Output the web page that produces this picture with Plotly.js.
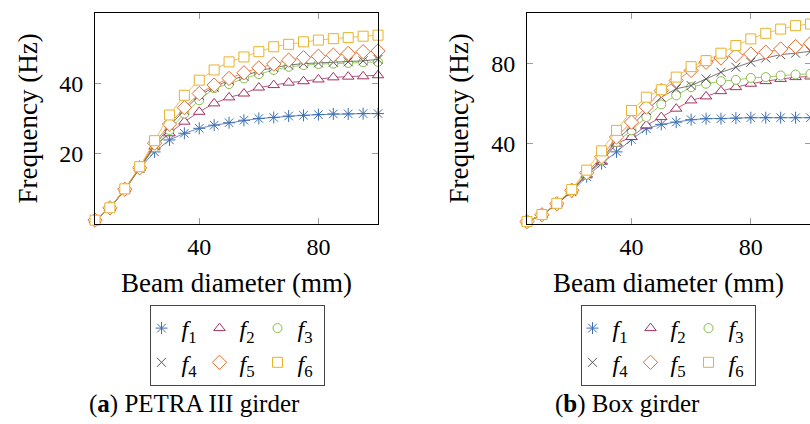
<!DOCTYPE html>
<html>
<head>
<meta charset="utf-8">
<script src="https://cdn.plot.ly/plotly-3.0.1.min.js"></script>
<style>
html, body { margin: 0; padding: 0; overflow: hidden; background: #ffffff; }
#chart { width: 815px; height: 424px; }
</style>
</head>
<body>
<div id="chart"></div>
<script>
// Beam diameter (mm)
var diameter = [5, 10, 15, 20, 25, 30, 35, 40, 45, 50, 55, 60, 65, 70, 75, 80, 85, 90, 95, 100];

// (a) PETRA III girder, frequencies (Hz)
var petraF1 = [1.1, 4.5, 9.7, 15.8, 20.5, 23.9, 25.8, 27.2, 28.1, 28.8, 29.5, 30.0, 30.3, 30.7, 30.9, 31.1, 31.3, 31.3, 31.4, 31.4];
var petraF2 = [1.1, 4.5, 9.8, 15.9, 22.0, 25.8, 29.1, 31.9, 34.3, 36.0, 37.1, 38.8, 39.5, 40.2, 40.6, 41.1, 41.7, 41.9, 42.0, 42.3];
var petraF3 = [1.1, 4.5, 9.8, 15.9, 21.8, 26.7, 31.4, 35.2, 38.6, 39.8, 41.4, 42.6, 43.8, 44.7, 45.2, 45.5, 45.6, 45.8, 46.0, 46.1];
var petraF4 = [1.1, 4.5, 9.8, 15.9, 22.2, 27.8, 32.4, 36.6, 38.9, 40.9, 42.0, 43.6, 44.5, 45.2, 45.6, 45.8, 46.0, 46.1, 46.4, 46.8];
var petraF5 = [1.1, 4.6, 9.9, 16.0, 23.0, 28.4, 33.1, 37.1, 39.5, 41.4, 43.0, 44.4, 45.5, 46.6, 47.3, 47.7, 48.0, 48.5, 49.0, 49.2];
var petraF6 = [1.1, 4.6, 10.0, 16.3, 23.7, 31.0, 36.6, 40.9, 43.8, 46.1, 47.5, 49.0, 50.4, 51.1, 51.8, 52.3, 52.7, 53.0, 53.4, 53.7];

// (b) Box girder, frequencies (Hz)
var boxF1 = [1.2, 4.5, 9.9, 16.0, 23.5, 30.0, 35.9, 42.0, 47.4, 49.6, 50.7, 51.9, 52.4, 52.4, 52.7, 52.9, 52.9, 52.9, 52.9, 52.9];
var boxF2 = [1.2, 4.5, 10.0, 16.5, 24.5, 31.0, 40.0, 43.3, 49.1, 53.2, 57.4, 61.5, 63.5, 66.1, 68.1, 69.8, 71.1, 72.2, 73.1, 73.4];
var boxF3 = [1.2, 4.5, 10.0, 16.5, 24.5, 31.7, 40.8, 46.6, 53.2, 59.5, 64.0, 68.1, 69.8, 71.1, 71.7, 72.7, 73.1, 73.9, 74.4, 74.7];
var boxF4 = [1.2, 4.5, 10.0, 16.5, 24.8, 32.0, 41.7, 48.6, 56.5, 63.1, 67.3, 68.9, 72.2, 75.5, 78.0, 80.5, 82.6, 84.3, 85.0, 86.0];
var boxF5 = [1.2, 4.6, 10.1, 16.8, 25.5, 33.4, 43.3, 50.7, 58.2, 66.4, 71.4, 76.4, 80.5, 82.6, 83.8, 84.6, 85.5, 87.1, 88.3, 89.9];
var boxF6 = [1.2, 4.7, 10.3, 17.2, 26.8, 36.4, 46.6, 56.5, 63.1, 66.8, 73.1, 78.3, 81.3, 85.0, 88.8, 92.1, 94.9, 97.0, 98.7, 99.5];

var seriesNames = ['<i>f</i><sub>1</sub>', '<i>f</i><sub>2</sub>', '<i>f</i><sub>3</sub>',
                   '<i>f</i><sub>4</sub>', '<i>f</i><sub>5</sub>', '<i>f</i><sub>6</sub>'];
var xTicks = [40, 80];
var petraYTicks = [20, 40];
var boxYTicks = [40, 80];

var colors = ['#3d6fb2', '#a3305f', '#88bd48', '#555555', '#e66a30', '#e8b22a'];
var symbols = ['asterisk-open', 'triangle-up', 'circle', 'x-thin-open', 'diamond', 'square'];
var lineOnly = [true, false, false, true, false, false];
var sizes = [10, 10, 9, 9, 11, 10];
var groupOf = [1, 2, 3, 1, 2, 3];

var W = 815, H = 424;
function px(v) { return v / W; }
function py(v) { return 1 - v / H; }

var FONT = 'Liberation Serif, Times New Roman, serif';

function makeTraces(ys, xa, ya, legendId, prefix) {
  var out = [];
  ys.forEach(function (y, i) {
    // thin connecting line (not in legend)
    out.push({
      type: 'scatter', mode: 'lines',
      x: diameter, y: y, xaxis: xa, yaxis: ya,
      showlegend: false, hoverinfo: 'skip',
      legend: legendId, legendgroup: prefix + groupOf[i],
      line: { color: colors[i], width: 0.8 }
    });
    // marks (shown in legend)
    out.push({
      type: 'scatter', mode: 'markers',
      x: diameter, y: y, xaxis: xa, yaxis: ya,
      name: seriesNames[i],
      legend: legendId, legendgroup: prefix + groupOf[i],
      cliponaxis: false,
      marker: {
        symbol: symbols[i], size: sizes[i],
        color: lineOnly[i] ? colors[i] : '#ffffff',
        line: { color: colors[i], width: 1 }
      }
    });
  });
  return out;
}

var data = makeTraces([petraF1, petraF2, petraF3, petraF4, petraF5, petraF6], 'x', 'y', 'legend', 'a')
  .concat(makeTraces([boxF1, boxF2, boxF3, boxF4, boxF5, boxF6], 'x2', 'y2', 'legend2', 'b'));

function xAxis(domain, anchor) {
  return {
    domain: domain, anchor: anchor, range: [5, 100],
    tickvals: xTicks, ticks: 'inside', ticklen: 6, tickwidth: 1, tickcolor: '#9c9c9c',
    showline: true, linecolor: '#000000', linewidth: 1, mirror: 'ticks',
    showgrid: false, zeroline: false, ticklabelstandoff: 1,
    tickfont: { family: FONT, size: 24, color: '#000000' }
  };
}
function yAxis(range, ticks, anchor) {
  return {
    domain: [py(224), py(13)], anchor: anchor, range: range,
    tickvals: ticks, ticks: 'inside', ticklen: 6, tickwidth: 1, tickcolor: '#9c9c9c',
    showline: true, linecolor: '#000000', linewidth: 1, mirror: 'ticks',
    showgrid: false, zeroline: false, ticklabelstandoff: 6,
    tickfont: { family: FONT, size: 24, color: '#000000' }
  };
}

function legendCfg(cx) {
  return {
    x: px(cx), y: py(305), xanchor: 'center', yanchor: 'top',
    orientation: 'h', traceorder: 'grouped', entrywidth: 21, indentation: -8,
    bordercolor: '#444444', borderwidth: 1, bgcolor: '#ffffff',
    font: { family: FONT, size: 24, color: '#000000' }
  };
}

function ann(text, x, y, angle, size) {
  return {
    text: text, xref: 'paper', yref: 'paper', x: x, y: y,
    xanchor: 'center', yanchor: 'middle', showarrow: false,
    textangle: angle || 0,
    font: { family: FONT, size: size || 27, color: '#000000' }
  };
}

var layout = {
  width: W, height: H,
  margin: { l: 0, r: 0, t: 0, b: 0 },
  paper_bgcolor: '#ffffff', plot_bgcolor: '#ffffff',
  showlegend: true,
  xaxis: xAxis([px(95), px(378)], 'y'),
  yaxis: yAxis([0, 60], petraYTicks, 'x'),
  xaxis2: xAxis([px(527), px(810.5)], 'y2'),
  yaxis2: yAxis([0, 105], boxYTicks, 'x2'),
  legend: legendCfg(237),
  legend2: legendCfg(668),
  annotations: [
    ann('Frequency (Hz)', px(27), py(118.5), -90),
    ann('Frequency (Hz)', px(458), py(118.5), -90),
    ann('Beam diameter (mm)', px(236.5), py(283)),
    ann('Beam diameter (mm)', px(668.5), py(283)),
    ann('(<b>a</b>) PETRA III girder', px(194), py(404), 0, 25),
    ann('(<b>b</b>) Box girder', px(627), py(404), 0, 25)
  ]
};

Plotly.newPlot('chart', data, layout, { displayModeBar: false, staticPlot: true });
</script>
</body>
</html>
